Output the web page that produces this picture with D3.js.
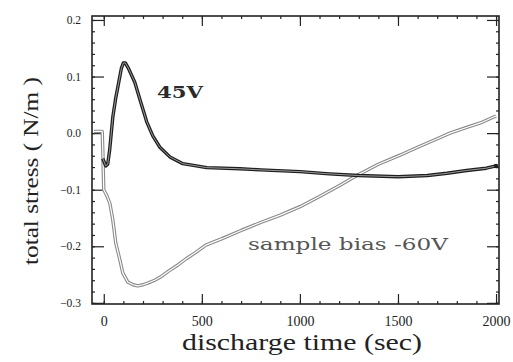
<!DOCTYPE html>
<html>
<head>
<meta charset="utf-8">
<script src="https://cdn.jsdelivr.net/npm/d3@7"></script>
<style>
  body { margin: 0; background: #fff; }
  svg { display: block; font-family: "Liberation Serif", serif; }
</style>
</head>
<body>
<svg id="chart" width="513" height="362"></svg>
<script>
// discharge time (sec) vs total stress (N/m)
const T_45V = [-5, 10, 20, 30, 46, 60, 71, 90, 100, 110, 125, 158, 184, 219, 250, 286, 337, 403, 525, 694, 800, 1000, 1150, 1300, 1500, 1650, 1750, 1850, 1950, 2000];
const S_45V = [-0.045, -0.058, -0.055, -0.03, 0.028, 0.06, 0.08, 0.115, 0.124, 0.124, 0.115, 0.09, 0.06, 0.02, -0.005, -0.025, -0.042, -0.054, -0.061, -0.063, -0.065, -0.068, -0.072, -0.075, -0.077, -0.075, -0.071, -0.066, -0.062, -0.058];

const T_60V = [-50, -8, -5, 0, 15, 31, 46, 61, 82, 97, 122, 150, 173, 200, 224, 260, 291, 330, 378, 420, 464, 520, 600, 700, 800, 900, 1000, 1100, 1200, 1290, 1400, 1510, 1600, 1700, 1765, 1850, 1920, 1985, 2000];
const S_60V = [0.003, 0.003, -0.03, -0.1, -0.11, -0.124, -0.153, -0.194, -0.224, -0.247, -0.263, -0.268, -0.27, -0.268, -0.265, -0.26, -0.254, -0.244, -0.233, -0.222, -0.212, -0.198, -0.187, -0.172, -0.158, -0.145, -0.13, -0.112, -0.093, -0.075, -0.055, -0.039, -0.025, -0.01, 0.0, 0.01, 0.018, 0.028, 0.03];

const X_TICKS = [0, 500, 1000, 1500, 2000];
const Y_TICKS = [-0.3, -0.2, -0.1, 0.0, 0.1, 0.2];

const SERIF = 'Liberation Serif, serif';
const LABEL_FONT = 'DejaVu Serif';
const svg = d3.select('#chart');
const frame = { left: 92, right: 499, top: 16, bottom: 304 };

const x = d3.scaleLinear().domain([-60, 2015]).range([frame.left, frame.right]);
const y = d3.scaleLinear().domain([-0.302, 0.207]).range([frame.bottom, frame.top]);

const xMinor = d3.range(0, 2001, 100);
const yMinor = d3.range(-0.3, 0.201, 0.02);

// minor ticks
svg.append('g').attr('transform', `translate(0,${frame.bottom})`)
  .call(d3.axisBottom(x).tickValues(xMinor).tickSize(-3).tickFormat(''))
  .call(a => a.select('.domain').remove());
svg.append('g').attr('transform', `translate(0,${frame.top})`)
  .call(d3.axisTop(x).tickValues(xMinor).tickSize(-3).tickFormat(''))
  .call(a => a.select('.domain').remove());
svg.append('g').attr('transform', `translate(${frame.left},0)`)
  .call(d3.axisLeft(y).tickValues(yMinor).tickSize(-3).tickFormat(''))
  .call(a => a.select('.domain').remove());
svg.append('g').attr('transform', `translate(${frame.right},0)`)
  .call(d3.axisRight(y).tickValues(yMinor).tickSize(-3).tickFormat(''))
  .call(a => a.select('.domain').remove());

// major ticks + labels
svg.append('g').attr('transform', `translate(0,${frame.bottom})`)
  .call(d3.axisBottom(x).tickValues(X_TICKS).tickSize(-10).tickPadding(12).tickFormat(d3.format('d')))
  .attr('font-family', SERIF).attr('font-size', 14)
  .call(a => a.select('.domain').remove())
  .call(a => a.selectAll('text').attr('fill', '#222'));
svg.append('g').attr('transform', `translate(0,${frame.top})`)
  .call(d3.axisTop(x).tickValues(X_TICKS).tickSize(-10).tickFormat(''))
  .call(a => a.select('.domain').remove());
svg.append('g').attr('transform', `translate(${frame.left},0)`)
  .call(d3.axisLeft(y).tickValues(Y_TICKS).tickSize(-12).tickPadding(11).tickFormat(d3.format('.1f')))
  .attr('font-family', SERIF).attr('font-size', 11.5)
  .call(a => a.select('.domain').remove())
  .call(a => a.selectAll('text').attr('fill', '#222'));
svg.append('g').attr('transform', `translate(${frame.right},0)`)
  .call(d3.axisRight(y).tickValues(Y_TICKS).tickSize(-12).tickFormat(''))
  .call(a => a.select('.domain').remove());

svg.selectAll('.tick line').attr('stroke', '#222').attr('stroke-width', 1.2);

// frame
svg.append('rect')
  .attr('x', frame.left).attr('y', frame.top)
  .attr('width', frame.right - frame.left).attr('height', frame.bottom - frame.top)
  .attr('fill', 'none').attr('stroke', '#222').attr('stroke-width', 1.6);

const line = d3.line().x(d => x(d[0])).y(d => y(d[1]));
const d60 = T_60V.map((t, i) => [t, S_60V[i]]);
const d45 = T_45V.map((t, i) => [t, S_45V[i]]);

// -60V: light double line
svg.append('path').datum(d60).attr('d', line)
  .attr('fill', 'none').attr('stroke', '#8a8a8a').attr('stroke-width', 3.4).attr('stroke-linejoin', 'round');
svg.append('path').datum(d60).attr('d', line)
  .attr('fill', 'none').attr('stroke', '#fff').attr('stroke-width', 1.2).attr('stroke-linejoin', 'round');

// 45V: dark double line
svg.append('path').datum(d45).attr('d', line)
  .attr('fill', 'none').attr('stroke', '#1e1e1e').attr('stroke-width', 3.4).attr('stroke-linejoin', 'round');
svg.append('path').datum(d45).attr('d', line)
  .attr('fill', 'none').attr('stroke', '#9a9a9a').attr('stroke-width', 1).attr('stroke-linejoin', 'round');
svg.append('circle')
  .attr('cx', x(T_45V[T_45V.length - 1])).attr('cy', y(S_45V[S_45V.length - 1]))
  .attr('r', 2.2).attr('fill', '#1e1e1e');

// annotations
svg.append('text')
  .attr('x', 157).attr('y', 98)
  .attr('font-family', LABEL_FONT).attr('font-weight', 'bold').attr('font-size', 16)
  .attr('textLength', 46).attr('lengthAdjust', 'spacingAndGlyphs')
  .attr('fill', '#2a2a2a')
  .text('45V');
svg.append('text')
  .attr('x', 248).attr('y', 250)
  .attr('font-family', LABEL_FONT).attr('font-size', 16)
  .attr('textLength', 200).attr('lengthAdjust', 'spacingAndGlyphs')
  .attr('fill', '#555')
  .text('sample bias -60V');

// axis titles
svg.append('text')
  .attr('x', 302).attr('y', 350)
  .attr('text-anchor', 'middle')
  .attr('font-family', SERIF).attr('font-size', 23).attr('fill', '#222')
  .attr('textLength', 240).attr('lengthAdjust', 'spacingAndGlyphs')
  .text('discharge time (sec)');
svg.append('text')
  .attr('transform', 'translate(38,171) rotate(-90)')
  .attr('text-anchor', 'middle')
  .attr('font-family', SERIF).attr('font-size', 22).attr('fill', '#222')
  .attr('textLength', 188).attr('lengthAdjust', 'spacingAndGlyphs')
  .text('total stress ( N/m )');
</script>
</body>
</html>
